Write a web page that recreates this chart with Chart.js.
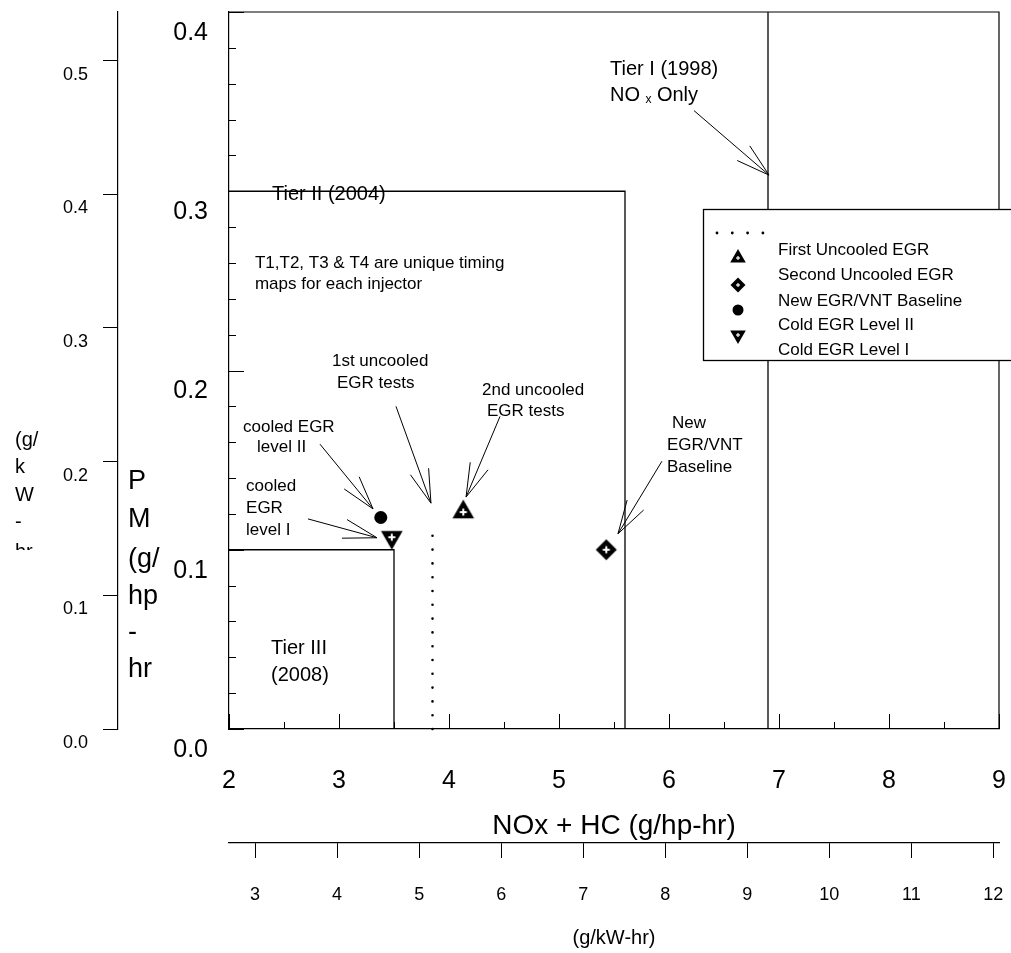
<!DOCTYPE html>
<html>
<head>
<meta charset="utf-8">
<script src="https://cdn.jsdelivr.net/npm/chart.js@4.4.1/dist/chart.umd.min.js"></script>
<style>
  html, body { margin: 0; padding: 0; background: #fff; }
  #wrap { width: 1011px; height: 953px; }
</style>
</head>
<body>
<div id="wrap"><canvas id="c" width="1011" height="953"></canvas></div>
<script>
// ---------------- DATA ----------------
const HP_TO_KW = 1.341;
const xTickLabels = [2, 3, 4, 5, 6, 7, 8, 9];
const yTickLabels = [0.0, 0.1, 0.2, 0.3, 0.4];
const kwXTickLabels = [3, 4, 5, 6, 7, 8, 9, 10, 11, 12];
const kwYTickLabels = [0.0, 0.1, 0.2, 0.3, 0.4, 0.5];

const seriesNames = ['First Uncooled EGR', 'Second Uncooled EGR', 'New EGR/VNT Baseline', 'Cold EGR Level II', 'Cold EGR Level I'];

const firstUncooledX = [4.13];
const firstUncooledY = [0.121];
const secondUncooledX = [5.43];
const secondUncooledY = [0.100];
const baselineX = [3.38];
const baselineY = [0.118];
const coldLevel2X = [3.48];
const coldLevel2Y = [0.107];

const dottedX = [3.85, 3.85];
const dottedY = [0.0, 0.115];

const tierIX = [6.9, 6.9];
const tierIY = [0.0, 0.4];
const tierIIX = [2.0, 5.6, 5.6];
const tierIIY = [0.3, 0.3, 0.0];
const tierIIIX = [2.0, 3.5, 3.5];
const tierIIIY = [0.1, 0.1, 0.0];

// ---------------- helpers ----------------
const FONT = "'Liberation Sans', Arial, Helvetica, sans-serif";
Chart.defaults.font.family = FONT;
Chart.defaults.color = '#000';

function pts(xs, ys) { return xs.map((x, i) => ({ x: x, y: ys[i] })); }

function drawMarker(g, kind, cx, cy, r, ph, pt) {
  g.fillStyle = '#000';
  g.beginPath();
  if (kind === 'up' || kind === 'down') {
    const s = kind === 'up' ? 1 : -1;
    for (let k = 0; k < 3; k++) {
      const a = k * 2 * Math.PI / 3;
      const x = cx + Math.sin(a) * r, y = cy - s * Math.cos(a) * r;
      if (k === 0) g.moveTo(x, y); else g.lineTo(x, y);
    }
  } else if (kind === 'diamond') {
    g.moveTo(cx, cy - r); g.lineTo(cx + r, cy); g.lineTo(cx, cy + r); g.lineTo(cx - r, cy);
  }
  g.closePath();
  g.fill();
  g.fillStyle = '#fff';
  g.fillRect(cx - ph, cy - pt / 2, 2 * ph, pt);
  g.fillRect(cx - pt / 2, cy - ph, pt, 2 * ph);
}
function markerCanvas(kind, r) {
  const c = document.createElement('canvas');
  c.width = 28; c.height = 28;
  drawMarker(c.getContext('2d'), kind, 14, 14, r, 3.5, 2);
  return c;
}
const mkUp = markerCanvas('up', 12.5);
const mkDown = markerCanvas('down', 12.5);
const mkDiamond = markerCanvas('diamond', 10.5);

// ---------------- annotation layout (data coordinates) ----------------
const notes = [
  { t: 'Tier I (1998)', x: 5.464, y: 0.3678, s: 20 },
  { t: 'Tier II (2004)', x: 2.391, y: 0.2983, s: 20 },
  { t: 'T1,T2, T3 & T4 are unique timing', x: 2.236, y: 0.260, s: 17 },
  { t: 'maps for each injector', x: 2.236, y: 0.2483, s: 17 },
  { t: '1st uncooled', x: 2.936, y: 0.205, s: 17 },
  { t: 'EGR tests', x: 2.982, y: 0.1928, s: 17 },
  { t: '2nd uncooled', x: 4.30, y: 0.1889, s: 17 },
  { t: 'EGR tests', x: 4.345, y: 0.1772, s: 17 },
  { t: 'cooled EGR', x: 2.127, y: 0.1683, s: 17 },
  { t: 'level II', x: 2.255, y: 0.1572, s: 17 },
  { t: 'cooled', x: 2.155, y: 0.1356, s: 17 },
  { t: 'EGR', x: 2.155, y: 0.1233, s: 17 },
  { t: 'level I', x: 2.155, y: 0.1106, s: 17 },
  { t: 'New', x: 6.027, y: 0.1706, s: 17 },
  { t: 'EGR/VNT', x: 5.982, y: 0.1583, s: 17 },
  { t: 'Baseline', x: 5.982, y: 0.1461, s: 17 },
  { t: 'Tier III', x: 2.382, y: 0.045, s: 20 },
  { t: '(2008)', x: 2.382, y: 0.030, s: 20 }
];
const arrows = [
  [6.227, 0.345, 6.909, 0.309],
  [3.518, 0.180, 3.836, 0.126],
  [4.464, 0.1744, 4.155, 0.1294],
  [2.827, 0.1589, 3.309, 0.1228],
  [2.718, 0.1172, 3.345, 0.1067],
  [5.936, 0.1494, 5.536, 0.1089]
];

const overlay = {
  id: 'overlay',
  afterDraw(chart) {
    const ctx = chart.ctx, ca = chart.chartArea;
    const xs = chart.scales.x, ys = chart.scales.y;
    const X = v => xs.getPixelForValue(v), Y = v => ys.getPixelForValue(v);
    ctx.save();
    ctx.strokeStyle = '#000';
    ctx.fillStyle = '#000';
    // inward ticks on main axes
    ctx.lineWidth = 1;
    ctx.beginPath();
    for (let i = 0; i <= 14; i++) {
      const v = 2 + i * 0.5, p = Math.round(X(v)) + 0.5;
      const len = (i % 2 === 0) ? 15 : 7;
      ctx.moveTo(p, ca.bottom); ctx.lineTo(p, ca.bottom - len);
    }
    for (let i = 0; i <= 20; i++) {
      const v = i * 0.02, p = Math.round(Y(v)) + 0.5;
      const len = (i % 5 === 0) ? 15 : 7;
      ctx.moveTo(ca.left, p); ctx.lineTo(ca.left + len, p);
    }
    ctx.stroke();
    // top and right frame
    ctx.lineWidth = 1.2;
    ctx.beginPath();
    ctx.moveTo(ca.left, ca.top); ctx.lineTo(ca.right, ca.top); ctx.lineTo(ca.right, ca.bottom);
    ctx.stroke();

    // annotation texts
    ctx.textBaseline = 'middle';
    ctx.textAlign = 'left';
    for (const n of notes) {
      ctx.font = n.s + 'px ' + FONT;
      ctx.fillText(n.t, X(n.x), Y(n.y));
    }
    // "NO x Only"
    {
      const x0 = X(5.464), y0 = Y(0.3533);
      ctx.font = '20px ' + FONT;
      ctx.fillText('NO', x0, y0);
      let w = ctx.measureText('NO ').width;
      ctx.font = '12px ' + FONT;
      ctx.fillText('x', x0 + w, y0 + 4);
      w += ctx.measureText('x ').width + 2;
      ctx.font = '20px ' + FONT;
      ctx.fillText('Only', x0 + w, y0);
    }
    // arrows
    ctx.lineWidth = 1;
    for (const a of arrows) {
      const x1 = X(a[0]), y1 = Y(a[1]), x2 = X(a[2]), y2 = Y(a[3]);
      const ang = Math.atan2(y1 - y2, x1 - x2);
      ctx.beginPath();
      ctx.moveTo(x1, y1); ctx.lineTo(x2, y2);
      for (const s of [-1, 1]) {
        const b = ang + s * 16 * Math.PI / 180;
        ctx.moveTo(x2, y2); ctx.lineTo(x2 + 35 * Math.cos(b), y2 + 35 * Math.sin(b));
      }
      ctx.stroke();
    }

    // axis titles (stacked)
    ctx.fillStyle = '#000';
    ctx.font = '27px ' + FONT;
    const pm = ['P', 'M', '(g/', 'hp', '-', 'hr'];
    const pmY = [482, 520, 560, 597, 633, 670];
    pm.forEach((t, i) => ctx.fillText(t, 128, pmY[i]));
    ctx.save();
    ctx.beginPath(); ctx.rect(0, 0, 110, 550); ctx.clip();
    ctx.font = '20px ' + FONT;
    const kw = ['(g/', 'k', 'W', '-', 'hr'];
    const kwY = [440, 467, 495, 522, 552];
    kw.forEach((t, i) => ctx.fillText(t, 15, kwY[i]));
    ctx.restore();

    // legend
    ctx.fillStyle = '#fff';
    ctx.fillRect(703, 209, 320, 152);
    ctx.lineWidth = 1.3;
    ctx.strokeRect(703.5, 209.5, 320, 151);
    ctx.fillStyle = '#000';
    for (let k = 0; k < 4; k++) {
      ctx.beginPath(); ctx.arc(717 + k * 15.3, 233, 1.4, 0, Math.PI * 2); ctx.fill();
    }
    drawMarker(ctx, 'up', 738, 258, 9, 2, 1.2);
    drawMarker(ctx, 'diamond', 738, 285, 7.5, 2, 1.2);
    ctx.fillStyle = '#000';
    ctx.beginPath(); ctx.arc(738, 310, 5.5, 0, Math.PI * 2); ctx.fill();
    drawMarker(ctx, 'down', 738, 335, 9, 2, 1.2);
    ctx.fillStyle = '#000';
    ctx.font = '17px ' + FONT;
    const txtY = [250, 275, 301, 325, 350];
    seriesNames.forEach((t, i) => ctx.fillText(t, 778, txtY[i]));
    ctx.restore();
  }
};

const lineDs = (xs, ys, extra) => Object.assign({
  type: 'scatter', data: pts(xs, ys), showLine: true, borderColor: '#000', borderWidth: 1.3,
  pointRadius: 0, fill: false, tension: 0, clip: false
}, extra || {});
const pointDs = (label, xs, ys, style, r) => ({
  type: 'scatter', label: label, data: pts(xs, ys), showLine: false,
  pointStyle: style, pointRadius: r, backgroundColor: '#000', borderColor: '#000', borderWidth: 0, clip: false
});

new Chart(document.getElementById('c'), {
  type: 'scatter',
  data: {
    datasets: [
      lineDs(tierIX, tierIY),
      lineDs(tierIIX, tierIIY),
      lineDs(tierIIIX, tierIIIY),
      lineDs(dottedX, dottedY, { borderWidth: 2.6, borderDash: [0, 13.8], borderCapStyle: 'round' }),
      pointDs(seriesNames[0], firstUncooledX, firstUncooledY, mkUp, 12),
      pointDs(seriesNames[1], secondUncooledX, secondUncooledY, mkDiamond, 12),
      pointDs(seriesNames[2], baselineX, baselineY, 'circle', 6.5),
      pointDs(seriesNames[3], coldLevel2X, coldLevel2Y, mkDown, 12)
    ]
  },
  options: {
    responsive: false,
    animation: false,
    devicePixelRatio: 1,
    layout: { padding: { left: 0, right: 12, top: 10, bottom: 0 } },
    plugins: { legend: { display: false }, tooltip: { enabled: false } },
    scales: {
      x: {
        type: 'linear', position: 'bottom', min: 2, max: 9, weight: 0,
        afterBuildTicks: s => { s.ticks = xTickLabels.map(v => ({ value: v })); },
        ticks: { padding: 37, font: { size: 25 }, color: '#000', maxRotation: 0, autoSkip: false, callback: v => String(v) },
        grid: { display: false, drawTicks: false },
        border: { display: true, color: '#000', width: 1.2 },
        title: { display: true, text: 'NOx + HC (g/hp-hr)', font: { size: 28 }, color: '#000', padding: { top: 0, bottom: 0 } },
        afterFit: s => { s.height = 114; s.paddingLeft = 0; s.paddingRight = 0; }
      },
      x2: {
        type: 'linear', position: 'bottom', min: 2 * HP_TO_KW, max: 9 * HP_TO_KW, weight: 1,
        afterBuildTicks: s => { s.ticks = kwXTickLabels.map(v => ({ value: v })); },
        ticks: { padding: 26, font: { size: 18 }, color: '#000', maxRotation: 0, autoSkip: false, callback: v => String(v) },
        grid: { display: true, drawOnChartArea: false, drawTicks: true, tickLength: 15, color: '#000', lineWidth: 1 },
        border: { display: true, color: '#000', width: 1.2 },
        title: { display: true, text: '(g/kW-hr)', font: { size: 20 }, color: '#000', padding: { top: 0, bottom: 3 } },
        afterFit: s => { s.height = 110; s.paddingLeft = 0; s.paddingRight = 0; }
      },
      y: {
        type: 'linear', position: 'left', min: 0, max: 0.4, weight: 0,
        afterBuildTicks: s => { s.ticks = yTickLabels.map(v => ({ value: v })); },
        ticks: { padding: 21, labelOffset: 21, font: { size: 25 }, color: '#000', autoSkip: false, callback: v => Number(v).toFixed(1) },
        grid: { display: false, drawTicks: false },
        border: { display: true, color: '#000', width: 1.2 },
        afterFit: s => { s.width = 111; s.paddingTop = 0; s.paddingBottom = 0; }
      },
      y2: {
        type: 'linear', position: 'left', min: 0, max: 0.4 * HP_TO_KW, weight: 1,
        afterBuildTicks: s => { s.ticks = kwYTickLabels.map(v => ({ value: v })); },
        ticks: { padding: 15, labelOffset: 14, font: { size: 18 }, color: '#000', autoSkip: false, callback: v => Number(v).toFixed(1) },
        grid: { display: true, drawOnChartArea: false, drawTicks: true, tickLength: 15, color: '#000', lineWidth: 1 },
        border: { display: true, color: '#000', width: 1.2 },
        afterFit: s => { s.width = 118; s.paddingTop = 0; s.paddingBottom = 0; }
      }
    }
  },
  plugins: [overlay]
});
</script>
</body>
</html>
